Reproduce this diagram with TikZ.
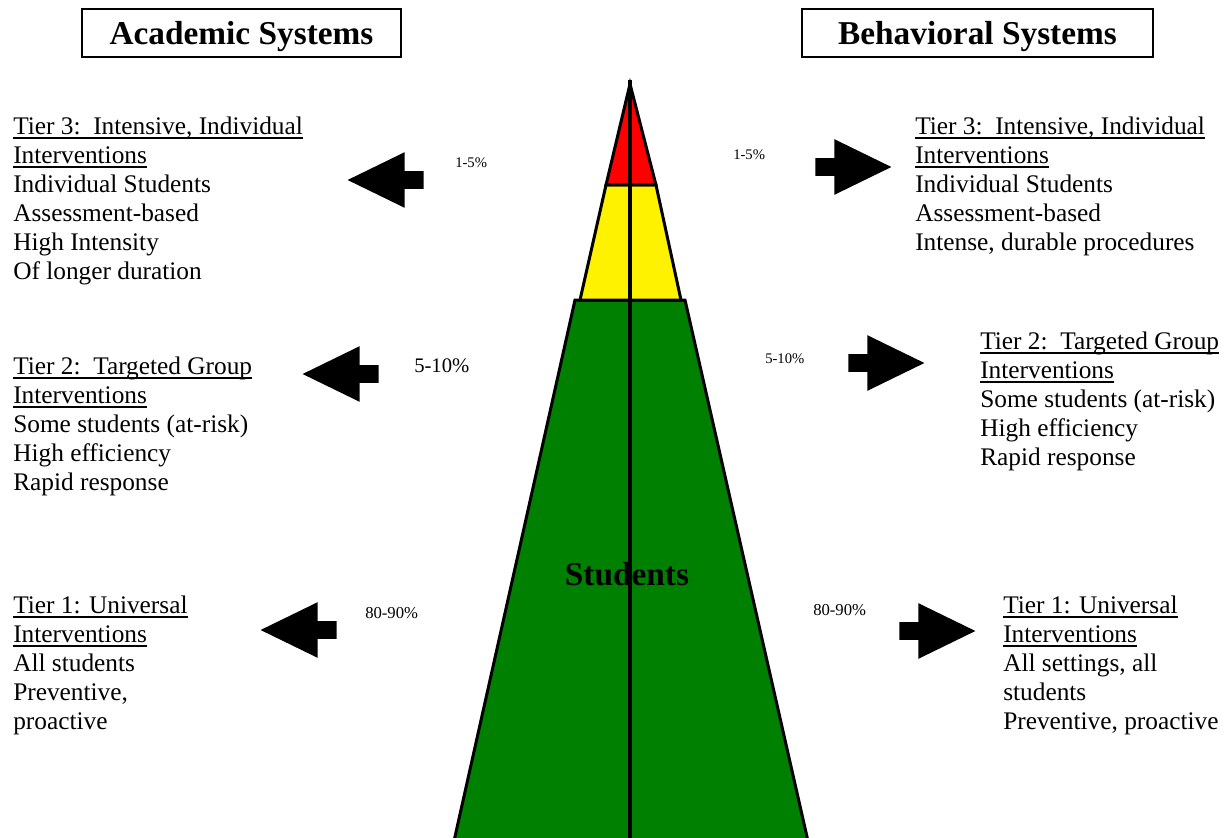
\documentclass[tikz,border=0pt]{standalone}
\usepackage{fontspec}
\setmainfont{Liberation Serif}
\usepackage{tikz}
\usetikzlibrary{shapes,shapes.arrows,positioning}
\tikzstyle{titlebox} = [draw, line width=1.2pt, font=\fontsize{25}{30}\selectfont\bfseries, minimum height=36pt, text depth=0pt, inner sep=0pt]
\tikzstyle{tiertext} = [anchor=north west, inner sep=0pt, align=left, font=\fontsize{19}{21.75}\selectfont]
\tikzstyle{pct} = [anchor=base west, inner sep=0pt]
\tikzstyle{blockarrow} = [single arrow, fill=black, draw=none, inner xsep=0pt, inner ysep=6.4pt, minimum height=57pt, single arrow head extend=14.25pt, single arrow tip angle=52, anchor=tip]
\tikzstyle{tier} = [draw, line width=2.25pt]
\newcommand{\tiertext}[2]{node (t#1) [tiertext] {#2}}
\newcommand{\blockL}[1]{node (a#1) [blockarrow, shape border rotate=180] {}}
\newcommand{\blockR}[1]{node (a#1) [blockarrow] {}}
\newcommand{\pctlabel}[3]{node (p#1) [pct, font=\fontsize{#2}{#2}\selectfont] {#3}}
\newcommand{\tierhead}[1]{\setbox0\hbox{#1}\rlap{\rule[-3.2pt]{\wd0}{1.2pt}}\box0}
\begin{document}
\begin{tikzpicture}[x=0.75pt,y=-0.75pt]
\useasboundingbox (0,0) rectangle (1228,838);
\path (241.5,33) node (acad) [titlebox, minimum width=239.25pt] {Academic Systems};
\path (977.5,33) node (behav) [titlebox, minimum width=263.25pt] {Behavioral Systems};

% pyramid
\begin{scope}
\clip (0,0) rectangle (1228,838);
\path [tier, fill=green!50!black] (575,300) -- (685,300) -- (810,850) -- (452,850) -- cycle;
\path [tier, fill=yellow] (580,300) -- (606,185) -- (656,185) -- (681,300) -- cycle;
\path [tier, fill=red] (606,185) -- (630,84) -- (656,185) -- cycle;
\path (627,574) node (stud) [font=\fontsize{25}{30}\selectfont\bfseries] {Students};
\path [draw, line width=3pt] (630,80) -- (630,850);
\end{scope}

% academic side
\path (13,116.7) \tiertext{l3}{\tierhead{Tier 3:\ \ Intensive, Individual}\\\tierhead{Interventions}\\Individual Students\\Assessment-based\\High Intensity\\Of longer duration};
\path (13,356.7) \tiertext{l2}{\tierhead{Tier 2:\ \ Targeted Group}\\\tierhead{Interventions}\\Some students (at-risk)\\High efficiency\\Rapid response};
\path (13,595.7) \tiertext{l1}{\tierhead{Tier 1: Universal}\\\tierhead{Interventions}\\All students\\Preventive,\\proactive};
\path (347,180) \blockL{l3};
\path (302,374) \blockL{l2};
\path (260,630) \blockL{l1};
\path (455,168) \pctlabel{l3}{11}{1-5\%};
\path (414,372) \pctlabel{l2}{15.5}{5-10\%};
\path (365,618) \pctlabel{l1}{12.5}{80-90\%};

% behavioral side
\path (915,116.7) \tiertext{r3}{\tierhead{Tier 3:\ \ Intensive, Individual}\\\tierhead{Interventions}\\Individual Students\\Assessment-based\\Intense, durable procedures};
\path (980,331.7) \tiertext{r2}{\tierhead{Tier 2:\ \ Targeted Group}\\\tierhead{Interventions}\\Some students (at-risk)\\High efficiency\\Rapid response};
\path (1003,595.7) \tiertext{r1}{\tierhead{Tier 1: Universal}\\\tierhead{Interventions}\\All settings, all\\students\\Preventive, proactive};
\path (892,167) \blockR{r3};
\path (925,363) \blockR{r2};
\path (976,631) \blockR{r1};
\path (733,160) \pctlabel{r3}{11}{1-5\%};
\path (765,363) \pctlabel{r2}{11}{5-10\%};
\path (813,615) \pctlabel{r1}{12.5}{80-90\%};
\end{tikzpicture}
\end{document}
